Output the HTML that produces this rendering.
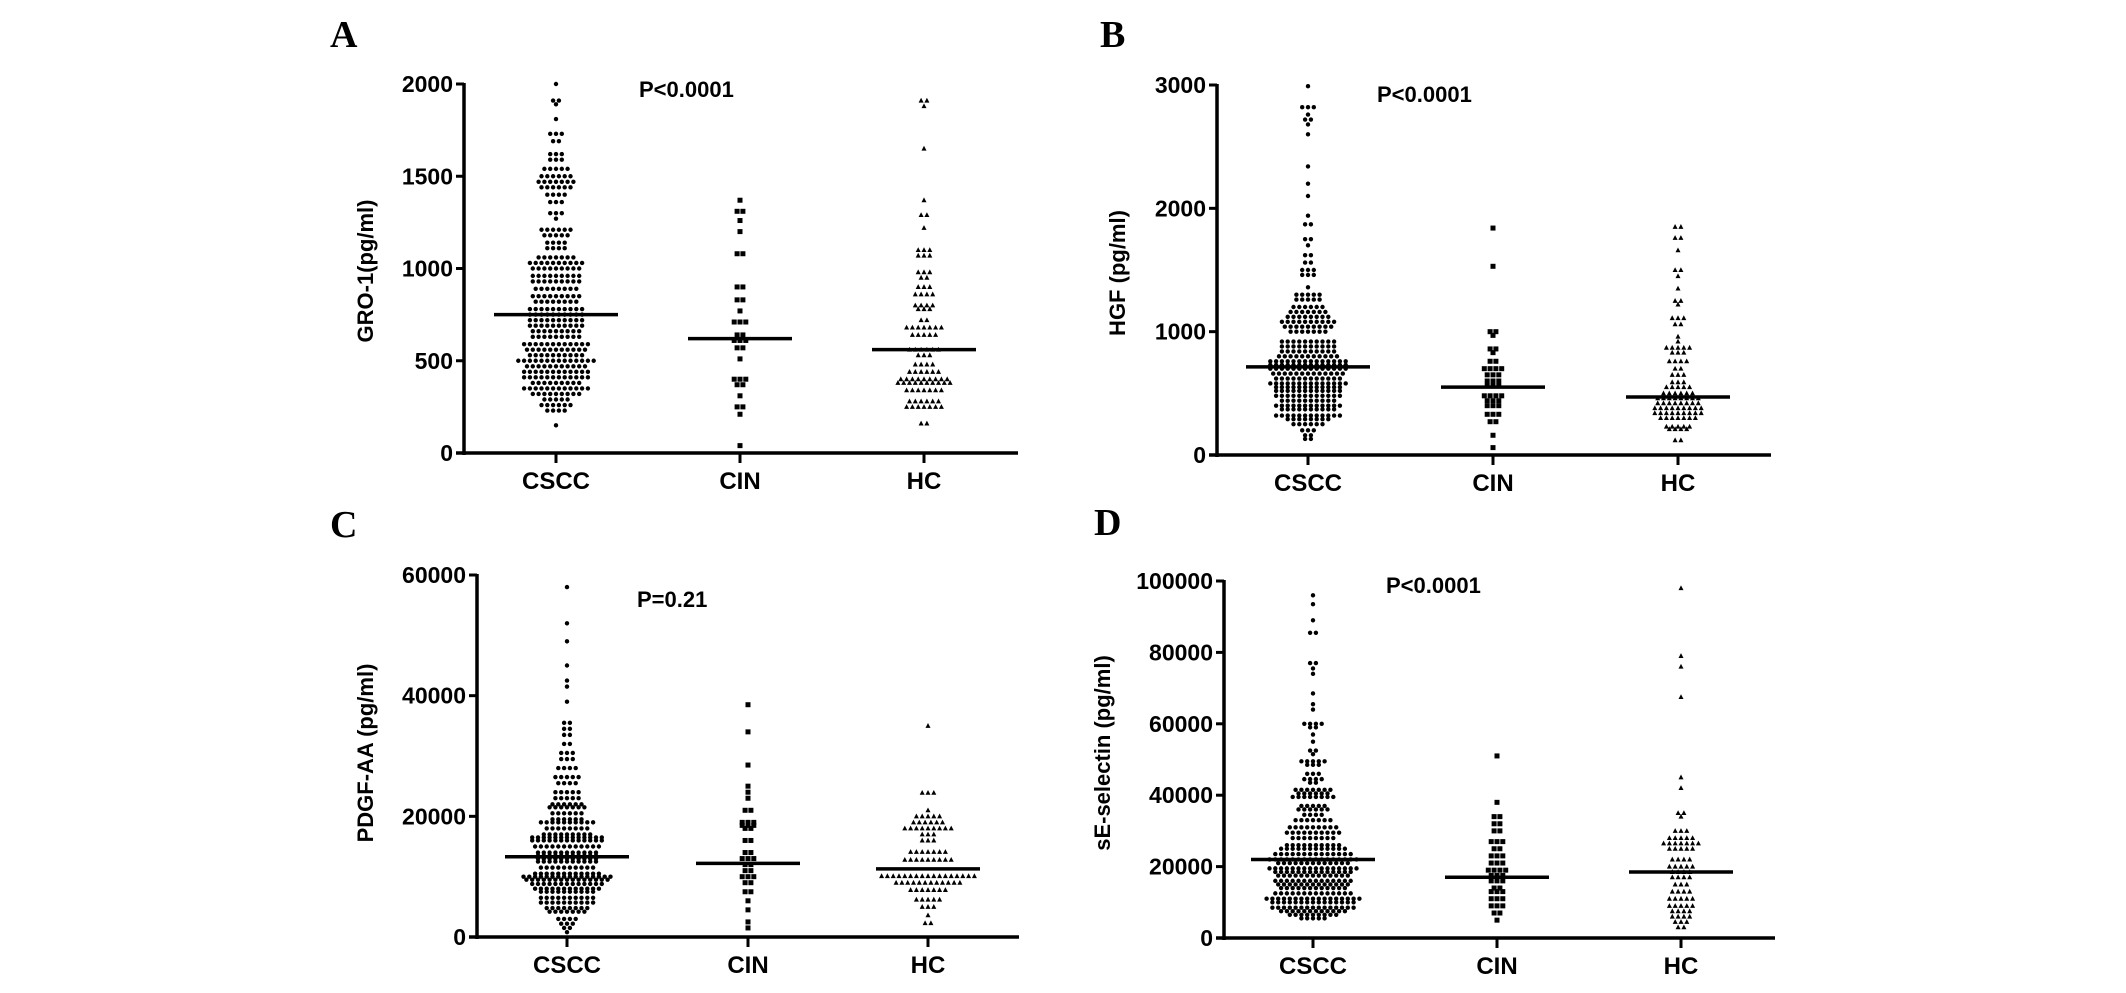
<!DOCTYPE html>
<html><head><meta charset="utf-8">
<style>
html,body{margin:0;padding:0;background:#fff;}
svg{display:block;}
text{font-family:"Liberation Sans",Arial,sans-serif;font-weight:bold;fill:#000;}
.letter{font-family:"Liberation Serif",serif;font-size:38px;}
</style></head>
<body>
<svg id="fig" width="2126" height="993" viewBox="0 0 2126 993" xmlns="http://www.w3.org/2000/svg"></svg>
<script>
// ---- data ([value, count] rows per group) ----
const categories = ["CSCC","CIN","HC"];
const aCSCC = [[2000,1],[1910,2],[1890,1],[1810,1],[1730,3],[1690,2],[1620,3],[1590,3],[1540,5],[1500,6],[1470,7],[1440,6],[1400,4],[1360,3],[1300,3],[1270,1],[1210,6],[1180,5],[1140,4],[1110,4],[1060,7],[1030,10],[1000,9],[960,9],[930,9],[890,8],[850,9],[820,8],[780,10],[750,10],[720,10],[690,10],[660,9],[630,9],[590,12],[560,11],[530,10],[500,14],[470,11],[440,12],[410,12],[380,9],[350,12],[320,9],[290,5],[260,6],[230,4],[150,1]];
const aCIN = [[1370,1],[1310,2],[1260,1],[1200,1],[1080,2],[900,2],[830,2],[770,1],[710,3],[640,2],[610,3],[570,2],[510,1],[400,3],[370,2],[310,1],[250,2],[210,1],[40,1]];
const aHC = [[1910,2],[1880,1],[1650,1],[1370,1],[1290,2],[1220,1],[1100,3],[1070,3],[980,3],[950,2],[900,3],[860,4],[800,4],[780,3],[720,2],[680,7],[640,5],[560,6],[530,3],[480,4],[440,6],[400,9],[380,10],[340,7],[280,6],[250,7],[160,2]];
const aMedians = [750,620,560];
const aTicks = [0,500,1000,1500,2000];

const bCSCC = [[2990,1],[2820,3],[2760,1],[2720,2],[2680,1],[2600,1],[2340,1],[2200,1],[2100,1],[1940,1],[1870,2],[1750,2],[1700,1],[1620,2],[1560,2],[1500,3],[1460,3],[1360,1],[1300,5],[1260,5],[1200,6],[1160,7],[1120,8],[1080,10],[1040,9],[1000,7],[920,10],[880,10],[840,10],[800,11],[760,14],[730,14],[700,14],[660,13],[620,12],[580,14],[550,12],[520,12],[480,12],[440,10],[400,12],[370,10],[320,12],[290,8],[250,6],[200,3],[160,2],[130,2]];
const bCIN = [[1840,1],[1530,1],[1000,2],[970,1],[860,2],[830,1],[760,2],[700,4],[650,3],[600,3],[560,3],[480,4],[440,3],[400,3],[330,3],[270,2],[160,1],[60,1]];
const bHC = [[1850,2],[1760,2],[1660,1],[1500,2],[1450,1],[1350,1],[1250,2],[1220,1],[1110,3],[1060,2],[960,1],[920,1],[870,5],[830,3],[760,4],[700,2],[650,3],[590,3],[550,5],[500,6],[460,8],[420,8],[380,9],[340,9],[300,7],[230,5],[210,4],[120,2]];
const bMedians = [715,550,470];
const bTicks = [0,1000,2000,3000];

const cCSCC = [[58000,1],[52000,1],[49000,1],[45000,1],[42500,1],[41500,1],[39000,1],[35500,2],[34500,2],[33500,2],[32000,2],[30500,3],[29500,3],[28000,4],[26500,5],[25500,4],[24000,5],[23000,5],[22000,6],[21500,7],[20500,6],[19500,6],[19000,10],[18000,8],[17000,9],[16500,13],[16000,13],[15000,12],[14000,11],[13500,11],[13000,11],[12500,11],[11500,10],[10500,12],[10000,16],[9500,15],[8800,13],[8000,12],[7500,10],[6500,10],[5700,10],[4800,8],[4200,7],[3000,4],[2200,3],[1500,2],[800,1]];
const cCIN = [[38500,1],[34000,1],[28500,1],[25000,1],[24000,1],[23000,1],[21000,2],[19000,3],[18500,3],[18000,2],[16000,2],[14000,2],[13000,3],[12000,2],[11000,2],[10000,3],[9000,2],[7500,2],[6000,1],[4500,1],[2500,1],[1500,1]];
const cHC = [[35000,1],[23900,3],[21000,1],[20000,5],[19000,6],[18000,9],[17000,3],[16000,3],[14100,7],[12800,9],[10100,17],[9000,12],[7800,7],[6200,5],[5000,3],[3600,1],[2300,2]];
const cMedians = [13300,12200,11300];
const cTicks = [0,20000,40000,60000];

const dCSCC = [[96000,1],[93500,1],[89000,1],[85500,2],[77000,2],[75500,1],[74000,1],[68500,1],[65500,1],[64000,1],[60000,4],[59000,2],[57000,1],[55000,1],[52500,2],[51500,1],[49500,5],[48500,3],[46000,3],[44500,4],[43500,2],[41500,7],[40500,6],[39500,8],[37000,5],[36000,6],[34500,4],[33000,7],[31000,9],[29500,10],[28000,8],[26000,10],[25000,12],[23500,14],[22000,16],[21000,13],[19500,16],[18500,14],[17500,13],[16000,14],[15000,13],[14000,12],[12500,14],[11000,17],[10000,15],[8500,15],[7500,12],[6500,9],[5500,5]];
const dCIN = [[51000,1],[38000,1],[34000,2],[32000,2],[30000,2],[27000,3],[25000,2],[23000,3],[21000,3],[19000,4],[17500,3],[16000,3],[14000,2],[13000,3],[11000,3],[9000,3],[7000,2],[5000,1]];
const dHC = [[98000,1],[79000,1],[76000,1],[67500,1],[45000,1],[42000,1],[35000,2],[34000,1],[30000,3],[28000,5],[26500,7],[25000,5],[22000,4],[20000,5],[18500,4],[17000,4],[15000,3],[13000,4],[11000,5],[9000,5],[7500,4],[6000,4],[4500,3],[3000,2]];
const dMedians = [22000,17000,18500];
const dTicks = [0,20000,40000,60000,80000,100000];

const NS="http://www.w3.org/2000/svg";
const svg=document.getElementById('fig');
function mk(tag,attrs,parent){const e=document.createElementNS(NS,tag);for(const k in attrs)e.setAttribute(k,attrs[k]);(parent||svg).appendChild(e);return e;}

function panel(cfg){
  const g=mk('g',{});
  
  
  const y=v=>cfg.y0-(v/cfg.max)*(cfg.y0-cfg.yTop);
  const x=i=>cfg.cx[i];
  const L=mk('text',{x:cfg.lx,y:cfg.ly,class:'letter'},g);L.textContent=cfg.letter;
  
  
  const ya=mk('line',{x1:cfg.ax,y1:y(cfg.max)-1,x2:cfg.ax,y2:cfg.y0+2,stroke:'#000','stroke-width':3.5},g);
  
  
  const xa=mk('line',{x1:cfg.ax-8,y1:cfg.y0,x2:cfg.xEnd,y2:cfg.y0,stroke:'#000','stroke-width':3.5},g);
  
  
  cfg.ticks.forEach(t=>{
    mk('line',{x1:cfg.ax-8,y1:y(t),x2:cfg.ax,y2:y(t),stroke:'#000','stroke-width':3},g);
    const tt=mk('text',{x:cfg.ax-11,y:y(t)+8,'text-anchor':'end','font-size':23},g);
    tt.textContent=t;
    
    
  });
  const yt=mk('text',{x:cfg.tx,y:cfg.ty,'text-anchor':'middle','font-size':22,transform:`rotate(-90 ${cfg.tx} ${cfg.ty})`},g);
  yt.textContent=cfg.title;
  
  
  const pt=mk('text',{x:cfg.px,y:cfg.py,'font-size':22},g);pt.textContent=cfg.p;
  
  
  cfg.groups.forEach((rows,i)=>{
    mk('line',{x1:x(i),y1:cfg.y0,x2:x(i),y2:cfg.y0+10,stroke:'#000','stroke-width':3},g);
    const xl=mk('text',{x:x(i),y:cfg.y0+36,'text-anchor':'middle','font-size':24},g);
    xl.textContent=categories[i];
    
    
    rows.forEach(([v,n])=>{
      for(let k=0;k<n;k++){
        const off=(k-(n-1)/2)*5.8;
        const px=x(i)+off, py=y(v);
        let m;
        if(i===0) m=mk('circle',{cx:px,cy:py,r:2.2,fill:'#000'},g);
        else if(i===1) m=mk('rect',{x:px-2.5,y:py-2.5,width:5,height:5,fill:'#000'},g);
        else m=mk('polygon',{points:`${px},${py-2.8} ${px-2.5},${py+2} ${px+2.5},${py+2}`,fill:'#000'},g);
        
        
      }
    });
    const hw=i===0?62:52;
    const md=mk('line',{x1:x(i)-hw,y1:y(cfg.medians[i]),x2:x(i)+hw,y2:y(cfg.medians[i]),stroke:'#000','stroke-width':3.5},g);
    
    
  });
}

panel({letter:'A',lx:330,ly:47,ax:464,y0:453,yTop:84,max:2000,xEnd:1018,cx:[556,740,924],
  ticks:aTicks,title:'GRO-1(pg/ml)',tx:373,ty:271,p:'P<0.0001',px:639,py:97,groups:[aCSCC,aCIN,aHC],medians:aMedians});
panel({letter:'B',lx:1100,ly:47,ax:1217,y0:455,yTop:85,max:3000,xEnd:1771,cx:[1308,1493,1678],
  ticks:bTicks,title:'HGF (pg/ml)',tx:1125,ty:273,p:'P<0.0001',px:1377,py:102,groups:[bCSCC,bCIN,bHC],medians:bMedians});
panel({letter:'C',lx:330,ly:537,ax:477,y0:937,yTop:575,max:60000,xEnd:1019,cx:[567,748,928],
  ticks:cTicks,title:'PDGF-AA (pg/ml)',tx:373,ty:753,p:'P=0.21',px:637,py:607,groups:[cCSCC,cCIN,cHC],medians:cMedians});
panel({letter:'D',lx:1094,ly:535,ax:1224,y0:938,yTop:581,max:100000,xEnd:1775,cx:[1313,1497,1681],
  ticks:dTicks,title:'sE-selectin (pg/ml)',tx:1110,ty:753,p:'P<0.0001',px:1386,py:593,groups:[dCSCC,dCIN,dHC],medians:dMedians});
</script>
</body></html>
